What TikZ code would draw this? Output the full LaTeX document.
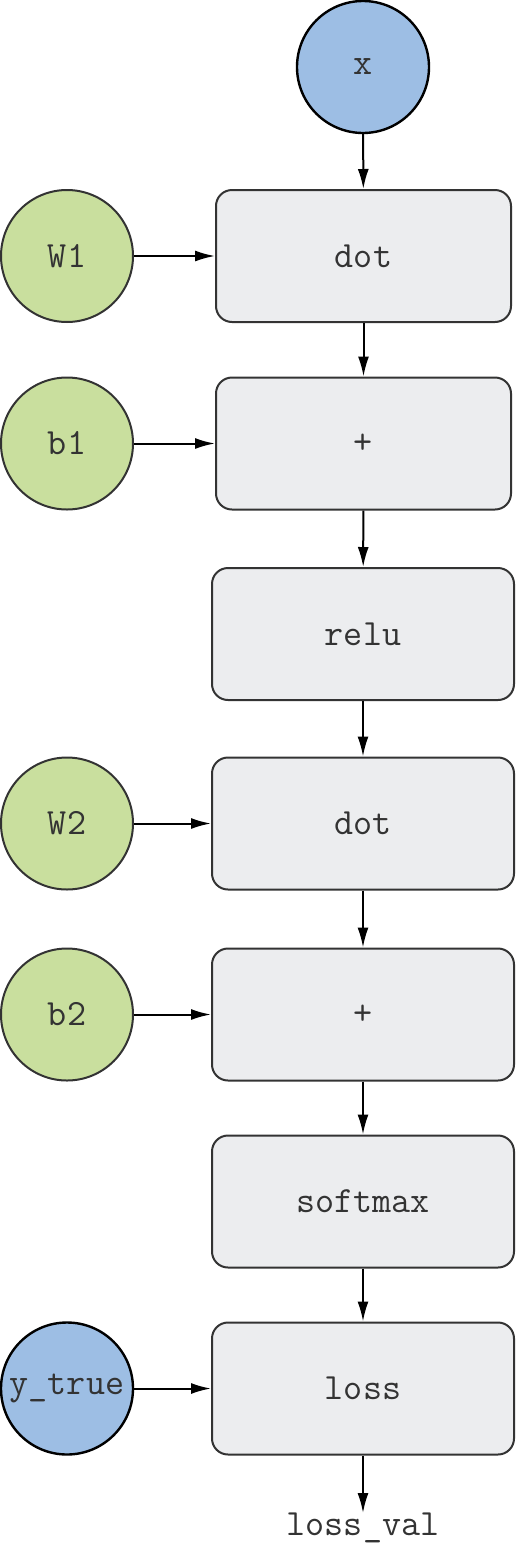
\documentclass[tikz,border=0pt]{standalone}
\usepackage{fontspec}
\usetikzlibrary{arrows.meta}
\definecolor{inblue}{HTML}{9DBEE4}
\definecolor{pgreen}{HTML}{C9DF9E}
\definecolor{opgray}{HTML}{ECEDEF}
\definecolor{ink}{HTML}{333333}

\begin{document}
\begin{tikzpicture}[
  x=1pt, y=-1pt,
  every node/.style={font=\ttfamily\fontsize{37}{44}\selectfont, text=ink},
  input/.style={circle, draw=black, line width=2.4pt, fill=inblue, minimum size=132pt, inner sep=0pt},
  param/.style={circle, draw=ink, line width=2pt, fill=pgreen, minimum size=132pt, inner sep=0pt},
  op/.style={rectangle, rounded corners=16pt, draw=ink, line width=2pt, fill=opgray, minimum width=302pt, minimum height=132pt},
  flow/.style={-{Latex[length=20pt,width=11pt]}, line width=2pt, black}
]
\useasboundingbox (0,0) rectangle (516,1545);

\node[input] (x) at (363,67) {x};

\node[op, minimum width=295pt] (dot1) at (363.5,256) {dot};
\node[param] (W1) at (67,256) {W1};

\node[op, minimum width=295pt] (add1) at (363.5,443.5) {+};
\node[param] (b1) at (67,443.5) {b1};

\node[op] (relu) at (363,634) {relu};

\node[op] (dot2) at (363,823.5) {dot};
\node[param] (W2) at (67,823.5) {W2};

\node[op] (add2) at (363,1014.5) {+};
\node[param] (b2) at (67,1014.5) {b2};

\node[op] (softmax) at (363,1201.5) {softmax};

\node[op] (loss) at (363,1388.5) {loss};
\node[input] (ytrue) at (67,1388.5) {y\_true};

\node[inner sep=0pt, anchor=north] (lossval) at (363,1513) {loss\_val};

% main chain
\draw[flow] (x) -- (dot1);
\draw[flow] (dot1) -- (add1);
\draw[flow] (add1) -- (relu);
\draw[flow] (relu) -- (dot2);
\draw[flow] (dot2) -- (add2);
\draw[flow] (add2) -- (softmax);
\draw[flow] (softmax) -- (loss);
\draw[flow] (loss) -- (lossval);

% side inputs
\draw[flow] (W1) -- (dot1);
\draw[flow] (b1) -- (add1);
\draw[flow] (W2) -- (dot2);
\draw[flow] (b2) -- (add2);
\draw[flow] (ytrue) -- (loss);
\end{tikzpicture}
\end{document}
